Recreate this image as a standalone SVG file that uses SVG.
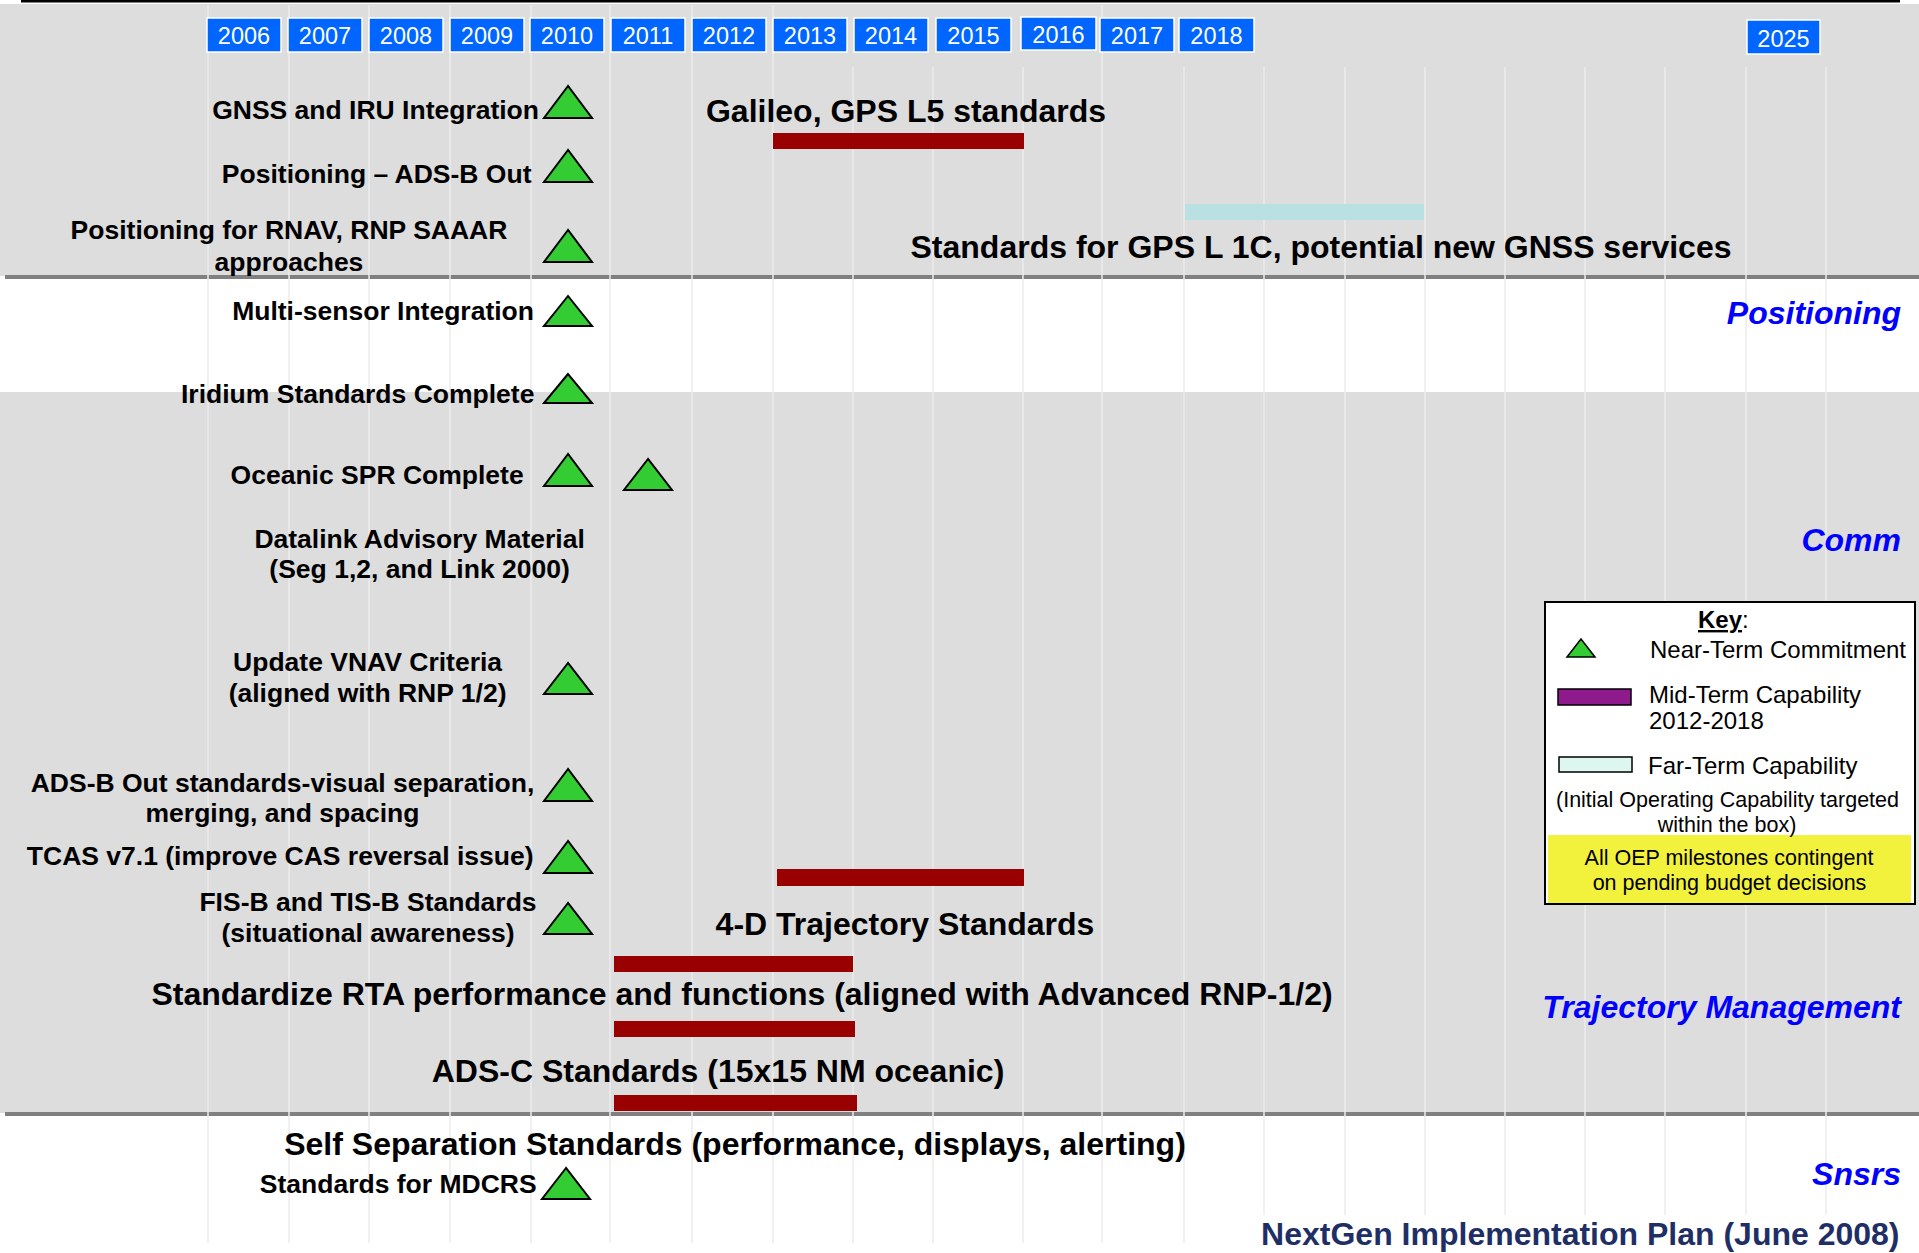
<svg xmlns="http://www.w3.org/2000/svg" width="1919" height="1253" viewBox="0 0 1919 1253">
<style>
.bg{fill:#DDDDDD}
.sep{fill:#808080}
.grid{stroke:#ECECEC;stroke-width:1.5;fill:none}
.yr rect{fill:#0066FF;stroke:#FFFFFF;stroke-width:1.5}
.yr text{font-family:"Liberation Sans",Arial,sans-serif;font-size:23.5px;fill:#FFFFFF;text-anchor:middle}
.tri{fill:#33CC33;stroke:#000000;stroke-width:2;stroke-linejoin:miter}
.lbl{font-family:"Liberation Sans",Arial,sans-serif;font-weight:bold;font-size:26.5px;fill:#000000}
.big{font-family:"Liberation Sans",Arial,sans-serif;font-weight:bold;font-size:32px;fill:#000000}
.cat{font-family:"Liberation Sans",Arial,sans-serif;font-weight:bold;font-style:italic;font-size:32px;fill:#0000FF;text-anchor:end}
.bar{fill:#990000}
.far{fill:#B9E1E4}
.key{font-family:"Liberation Sans",Arial,sans-serif;font-size:24px;fill:#000000}
.note{font-family:"Liberation Sans",Arial,sans-serif;font-size:21.5px;fill:#000000;text-anchor:middle}
.end{text-anchor:end}
.mid{text-anchor:middle}
</style>

<g id="background">
<rect x="0" y="0" width="1919" height="1253" fill="#FFFFFF"/>
<rect class="bg" x="0" y="4" width="1919" height="272"/>
<rect class="bg" x="0" y="392" width="1919" height="721"/>
<rect class="sep" x="5" y="275" width="1914" height="4"/>
<rect class="sep" x="5" y="1112" width="1914" height="4"/>
<rect x="21" y="0" width="1879" height="2.5" fill="#000000"/>
</g>

<g id="grid">
<path class="grid" d="M208 5V1243M289 5V1243M369 5V1243M450 5V1243M531 5V1243M610 5V1243M692 5V1243M773 5V1243M853 67V1243M933 67V1243M1023 67V1243M1102 5V1243M1184 67V1243M1264 67V1215M1345 67V1215M1425 67V1215M1505 67V1215M1585 67V1215M1665 67V1215M1746 67V1215M1826 67V1215"/>
</g>

<g id="years" class="yr">
<rect x="207" y="18" width="74" height="34"/><text x="244" y="43.5">2006</text>
<rect x="288" y="18" width="74" height="34"/><text x="325" y="43.5">2007</text>
<rect x="369" y="18" width="74" height="34"/><text x="406" y="43.5">2008</text>
<rect x="450" y="18" width="74" height="34"/><text x="487" y="43.5">2009</text>
<rect x="530" y="18" width="74" height="34"/><text x="567" y="43.5">2010</text>
<rect x="611" y="18" width="74" height="34"/><text x="648" y="43.5">2011</text>
<rect x="692" y="18" width="74" height="34"/><text x="729" y="43.5">2012</text>
<rect x="773" y="18" width="74" height="34"/><text x="810" y="43.5">2013</text>
<rect x="854" y="18" width="74" height="34"/><text x="891" y="43.5">2014</text>
<rect x="936" y="18" width="75" height="34"/><text x="973.5" y="43.5">2015</text>
<rect x="1021" y="17" width="75" height="33"/><text x="1058.5" y="42.5">2016</text>
<rect x="1100" y="18" width="74" height="34"/><text x="1137" y="43.5">2017</text>
<rect x="1179" y="18" width="75" height="34"/><text x="1216.5" y="43.5">2018</text>
<rect x="1747" y="20" width="73" height="34"/><text x="1783.5" y="46.5">2025</text>
</g>

<g id="gnss-iru">
<text class="lbl end" x="539" y="119">GNSS and IRU Integration</text>
<polygon class="tri" points="568,86 544,118 592,118"/>
</g>
<g id="positioning-adsb-out">
<text class="lbl end" x="531.5" y="183">Positioning – ADS-B Out</text>
<polygon class="tri" points="568,150 544,182 592,182"/>
</g>
<g id="positioning-rnav">
<text class="lbl mid" x="289" y="239">Positioning for RNAV, RNP SAAAR</text>
<text class="lbl mid" x="289" y="271">approaches</text>
<polygon class="tri" points="568,230 544,262 592,262"/>
</g>
<g id="galileo">
<text class="big mid" x="906" y="122">Galileo, GPS L5 standards</text>
<rect class="bar" x="773" y="133" width="251" height="16"/>
</g>
<g id="gps-l1c">
<rect class="far" x="1185" y="204" width="239" height="16"/>
<text class="big mid" x="1321" y="258">Standards for GPS L 1C, potential new GNSS services</text>
</g>
<g id="multi-sensor">
<text class="lbl end" x="534" y="320">Multi-sensor Integration</text>
<polygon class="tri" points="568,296 544,326 592,326"/>
</g>
<g id="iridium">
<text class="lbl end" x="534.4" y="403">Iridium Standards Complete</text>
<polygon class="tri" points="568,374 544,403 592,403"/>
</g>
<g id="oceanic-spr">
<text class="lbl end" x="523.7" y="484">Oceanic SPR Complete</text>
<polygon class="tri" points="568,454 544,486 592,486"/>
<polygon class="tri" points="648,459 624,490 672,490"/>
</g>
<g id="datalink">
<text class="lbl mid" x="419.6" y="548">Datalink Advisory Material</text>
<text class="lbl mid" x="419.6" y="578">(Seg 1,2, and Link 2000)</text>
</g>
<g id="vnav">
<text class="lbl mid" x="367.6" y="671">Update VNAV Criteria</text>
<text class="lbl mid" x="367.6" y="702">(aligned with RNP 1/2)</text>
<polygon class="tri" points="568,663 544,694 592,694"/>
</g>
<g id="adsb-out-standards">
<text class="lbl mid" x="282.5" y="792">ADS-B Out standards-visual separation,</text>
<text class="lbl mid" x="282.5" y="822">merging, and spacing</text>
<polygon class="tri" points="568,769 544,801 592,801"/>
</g>
<g id="tcas">
<text class="lbl end" x="533.5" y="865">TCAS v7.1 (improve CAS reversal issue)</text>
<polygon class="tri" points="568,841 544,873 592,873"/>
</g>
<g id="fisb-tisb">
<text class="lbl mid" x="368" y="911">FIS-B and TIS-B Standards</text>
<text class="lbl mid" x="368" y="942">(situational awareness)</text>
<polygon class="tri" points="568,903 544,934 592,934"/>
</g>
<g id="trajectory-4d">
<rect class="bar" x="777" y="869" width="247" height="17"/>
<text class="big mid" x="905" y="935">4-D Trajectory Standards</text>
</g>
<g id="rta">
<rect class="bar" x="614" y="956" width="239" height="16"/>
<text class="big mid" x="742" y="1005">Standardize RTA performance and functions (aligned with Advanced RNP-1/2)</text>
<rect class="bar" x="614" y="1021" width="241" height="16"/>
</g>
<g id="adsc">
<text class="big mid" x="718" y="1082">ADS-C Standards (15x15 NM oceanic)</text>
<rect class="bar" x="614" y="1095" width="243" height="16"/>
</g>
<g id="self-separation">
<text class="big mid" x="735" y="1155">Self Separation Standards (performance, displays, alerting)</text>
</g>
<g id="mdcrs">
<text class="lbl end" x="536.6" y="1193">Standards for MDCRS</text>
<polygon class="tri" points="566,1168 542,1199 590,1199"/>
</g>

<g id="categories">
<text class="cat" x="1901" y="324">Positioning</text>
<text class="cat" x="1901" y="551">Comm</text>
<text class="cat" x="1901" y="1018">Trajectory Management</text>
<text class="cat" x="1901" y="1185">Snsrs</text>
</g>

<g id="key">
<rect x="1545" y="602" width="370" height="302" fill="#FFFFFF" stroke="#000000" stroke-width="2"/>
<rect x="1548" y="835" width="363" height="68" fill="#F2F23C"/>
<text class="key" x="1698" y="628"><tspan font-weight="bold" text-decoration="underline">Key</tspan>:</text>
<polygon points="1581,639 1567,657 1595,657" fill="#33CC33" stroke="#000000" stroke-width="1.5"/>
<text class="key" x="1650" y="658">Near-Term Commitment</text>
<rect x="1558" y="689" width="73" height="16" fill="#8E1A8E" stroke="#000000" stroke-width="1.5"/>
<text class="key" x="1649" y="703">Mid-Term Capability</text>
<text class="key" x="1649" y="729">2012-2018</text>
<rect x="1559" y="757" width="73" height="15" fill="#DDF7F0" stroke="#000000" stroke-width="1.5"/>
<text class="key" x="1648" y="774">Far-Term Capability</text>
<text class="note" x="1727.5" y="807">(Initial Operating Capability targeted</text>
<text class="note" x="1727" y="832">within the box)</text>
<text class="note" x="1729" y="865">All OEP milestones contingent</text>
<text class="note" x="1729.5" y="890">on pending budget decisions</text>
</g>

<g id="title">
<text x="1899.5" y="1245" font-family="Liberation Sans, Arial, sans-serif" font-weight="bold" font-size="32px" fill="#1F2F66" text-anchor="end">NextGen Implementation Plan (June 2008)</text>
</g>
</svg>
